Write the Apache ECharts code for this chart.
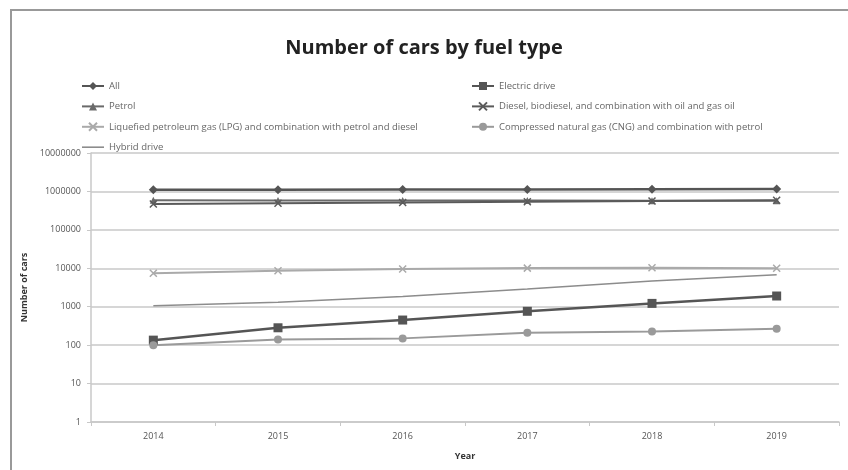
<!DOCTYPE html>
<html>
<head>
<meta charset="utf-8">
<script src="https://cdn.jsdelivr.net/npm/echarts@6/dist/echarts.min.js"></script>
<style>
  html, body { margin: 0; padding: 0; background: #fff; }
  #chart { width: 848px; height: 470px; }
</style>
</head>
<body>
<div id="chart"></div>
<script>
// Registered cars per fuel type, 2014-2019 (log scale)
const years = ['2014', '2015', '2016', '2017', '2018', '2019'];
const allCars = [1100000, 1110000, 1120000, 1130000, 1140000, 1150000];
const electric = [135, 283, 450, 760, 1220, 1900];
const petrol = [590000, 585000, 580000, 578000, 575000, 572000];
const diesel = [470000, 490000, 515000, 540000, 565000, 590000];
const lpg = [7400, 8600, 9600, 10100, 10300, 10000];
const cng = [100, 140, 150, 210, 227, 266];
const hybrid = [1060, 1300, 1850, 2900, 4700, 6800];
const yTicks = [1, 10, 100, 1000, 10000, 100000, 1000000, 10000000];

const FONT = '"Open Sans", "Noto Sans", sans-serif';
const CROSS = 'path://M0,0L10,10M10,0L0,10';
const BAR = 'path://M0,4.2H22V5.8H0Z';

function line(name, data, color, symbol, size, width) {
  return {
    name, type: 'line', data,
    symbol, symbolSize: size, showSymbol: symbol !== 'none',
    lineStyle: { color, width },
    itemStyle: { color, borderColor: color, borderWidth: symbol === CROSS ? 1.5 : 0 },
    z: 3
  };
}

const series = [
  line('All', allCars, '#555', 'diamond', 9, 2.5),
  line('Electric drive', electric, '#555', 'rect', 9, 2.5),
  line('Petrol', petrol, '#6a6a6a', 'triangle', 7, 2),
  line('Diesel, biodiesel, and combination with oil and gas oil', diesel, '#5a5a5a', CROSS, 7, 2),
  line('Liquefied petroleum gas (LPG) and combination with petrol and diesel', lpg, '#aaa', CROSS, 7, 2),
  line('Compressed natural gas (CNG) and combination with petrol', cng, '#9a9a9a', 'circle', 8, 2),
  line('Hybrid drive', hybrid, '#8c8c8c', 'none', 0, 1.5)
];

const legendText = { color: '#666', fontSize: 9.5, fontFamily: FONT };

const chart = echarts.init(document.getElementById('chart'), null, { renderer: 'canvas' });
chart.setOption({
  backgroundColor: '#fff',
  animation: false,
  title: {
    text: 'Number of cars by fuel type',
    left: 'center', top: 33,
    textStyle: { fontFamily: FONT, fontWeight: 'bold', fontSize: 20, color: '#222' }
  },
  legend: [
    {
      data: ['All', 'Petrol', 'Liquefied petroleum gas (LPG) and combination with petrol and diesel',
             { name: 'Hybrid drive', icon: BAR }],
      orient: 'vertical', left: 76, top: 76, itemGap: 10.4, itemWidth: 22, itemHeight: 10,
      textStyle: legendText
    },
    {
      data: ['Electric drive', 'Diesel, biodiesel, and combination with oil and gas oil', 'Compressed natural gas (CNG) and combination with petrol'],
      orient: 'vertical', left: 466, top: 76, itemGap: 10.4, itemWidth: 22, itemHeight: 10,
      textStyle: legendText
    }
  ],
  grid: { left: 91, right: 9, top: 153, bottom: 48 },
  xAxis: {
    type: 'category', data: years, boundaryGap: true,
    name: 'Year', nameLocation: 'middle', nameGap: 30,
    nameTextStyle: { fontFamily: FONT, fontWeight: 'bold', fontSize: 9, color: '#333' },
    axisLine: { lineStyle: { color: '#c8c8c8', width: 1.5 } },
    axisTick: { show: true, length: 4, lineStyle: { color: '#c8c8c8' } },
    axisLabel: { fontFamily: FONT, fontSize: 9, color: '#555', margin: 10 }
  },
  yAxis: {
    type: 'log', logBase: 10, min: 1, max: 10000000,
    name: 'Number of cars', nameLocation: 'middle', nameGap: 58, nameRotate: 90,
    nameTextStyle: { fontFamily: FONT, fontWeight: 'bold', fontSize: 9, color: '#333' },
    axisLine: { show: true, lineStyle: { color: '#c8c8c8', width: 1.5 } },
    axisTick: { show: true, length: 4, lineStyle: { color: '#c8c8c8' } },
    axisLabel: {
      fontFamily: FONT, fontSize: 9, color: '#555', margin: 10,
      formatter: v => yTicks.includes(Math.round(v)) ? String(Math.round(v)) : ''
    },
    splitLine: { show: true, lineStyle: { color: '#c8c8c8', width: 1.5 } }
  },
  graphic: [
    // outer frame of the figure
    { type: 'rect', shape: { x: 11, y: 10, width: 900, height: 500 },
      style: { fill: 'none', stroke: '#999', lineWidth: 2 }, silent: true, z: 0 }
  ],
  series
});
</script>
</body>
</html>
